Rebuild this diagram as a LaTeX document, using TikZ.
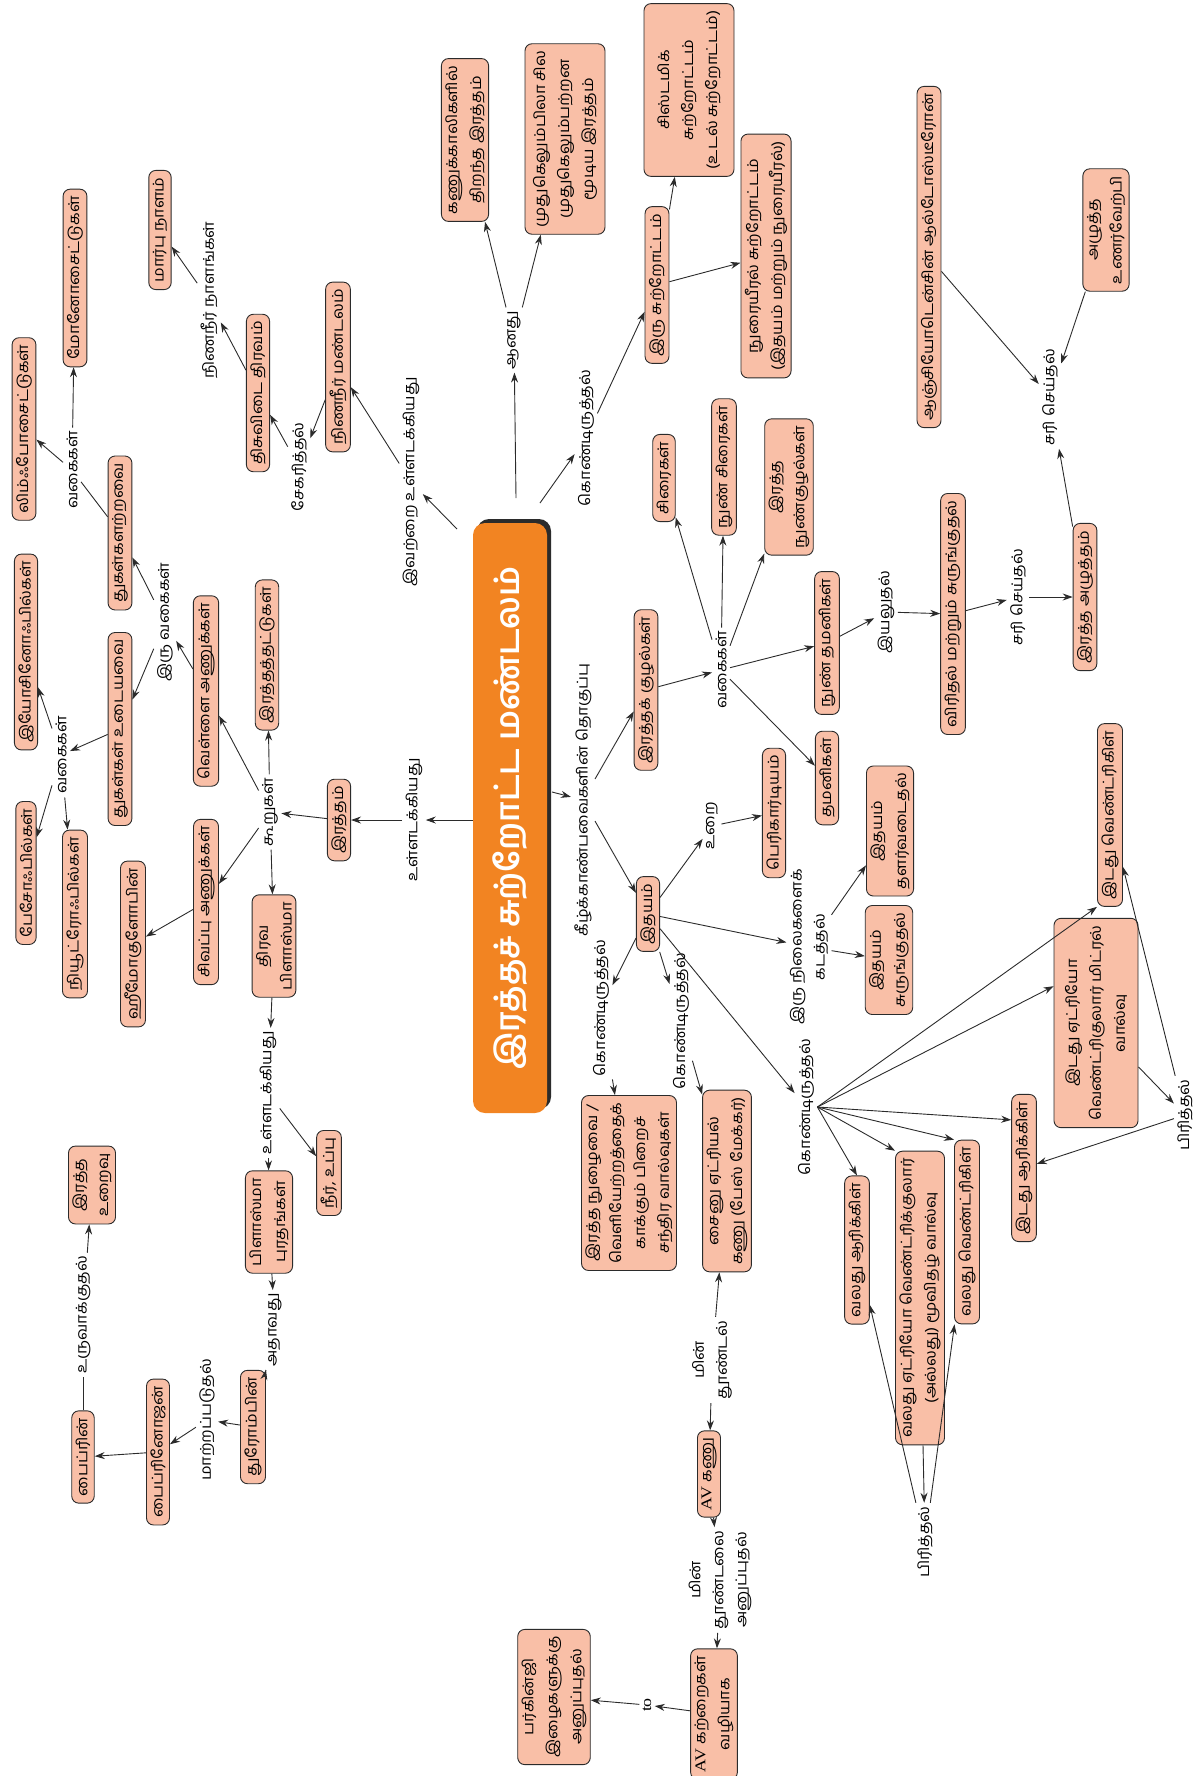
\documentclass[tikz,border=0pt]{standalone}
\usepackage{fontspec}
\setmainfont{Hind Madurai}[Script=Tamil, FakeStretch=1.1]
\newfontfamily\titlefont{Hind Madurai}[Script=Tamil]
\newfontfamily\latinfont{Liberation Serif}[FakeStretch=1.2]
\usetikzlibrary{arrows.meta, calc}
\definecolor{cpeach}{HTML}{F9BFA7}
\definecolor{corange}{HTML}{F28422}
\definecolor{cline}{HTML}{2B2B2B}
\tikzset{
  every picture/.style={line width=0.9bp},
  box/.style={rotate=90, draw=cline, fill=cpeach, rounded corners=7bp, align=center, inner xsep=7bp, inner ysep=4bp, font=\fontsize{15}{24}\selectfont},
  lbl/.style={rotate=90, align=center, inner sep=3bp, font=\fontsize{15}{23}\selectfont},
  arrow/.style={-{Stealth[length=10bp, width=7bp]}, draw=cline},
  link/.style={draw=cline},
  mainbox/.style={rotate=90, rounded corners=12bp, minimum width=590bp, minimum height=74bp, text=white, font=\titlefont\bfseries\fontsize{33}{40}\selectfont},
}
\begin{document}
\begin{tikzpicture}[x=1bp, y=-1bp]
  \useasboundingbox (0,0) rectangle (1198,1776);
  % title box
  \node[mainbox, fill=cline] (mainshadow) at (514,814) {};
  \node[mainbox, fill=corange] (main) at (510,818) {இரத்தச் சுற்றோட்ட மண்டலம்};

  % blood and its parts
  \node[lbl] (incl1) at (414,820) {உள்ளடக்கியது};
  \node[box] (blood) at (339,820) {இரத்தம்};
  \node[lbl] (comps) at (270,812) {கூறுகள்};
  \node[box] (wbc) at (206,691) {வெள்ளை அணுக்கள்};
  \node[box] (platelet) at (267,655) {இரத்தத்தட்டுகள்};
  \node[box] (rbc) at (206,902) {சிவப்பு அணுக்கள்};
  \node[box] (haemo) at (133,944) {ஹீமோகுளோபின்};
  \node[lbl] (twotypes) at (165,622) {இரு வகைகள்};
  \node[box] (agran) at (120,533) {துகள்களற்றவை};
  \node[box] (gran) at (120,729) {துகள்கள் உடையவை};
  \node[lbl] (types1) at (72,470) {வகைகள்};
  \node[box] (lympho) at (24,429) {லிம்ஃபோசைட்டுகள்};
  \node[box] (mono) at (75,278) {மோனோசைட்டுகள்};
  \node[lbl] (types2) at (61,755) {வகைகள்};
  \node[box] (eosino) at (26,652) {இயோசினோஃபில்கள்};
  \node[box] (baso) at (26,873) {பேசோஃபில்கள்};
  \node[box] (neutro) at (75,914) {நியூட்ரோஃபில்கள்};

  % plasma
  \node[box] (plasma) at (274,946) {திரவ\\பிளாஸ்மா};
  \node[lbl] (incl3) at (268,1093) {உள்ளடக்கியது};
  \node[box] (salt) at (329,1173) {நீர், உப்பு};
  \node[box] (protein) at (269,1222) {பிளாஸ்மா\\புரதங்கள்};
  \node[lbl] (thatis) at (275,1330) {அதாவது};
  \node[box] (thrombin) at (253,1427) {துரோம்பின்};
  \node[lbl] (convert) at (207,1420) {மாற்றப்படுதல்};
  \node[box] (fibrinogen) at (158,1452) {பைப்ரினோஜன்};
  \node[box] (fibrin) at (83,1457) {பைப்ரின்};
  \node[lbl] (form) at (83,1315) {உருவாக்குதல்};
  \node[box] (clot) at (92,1185) {இரத்த\\உறைவு};

  % lymph
  \node[lbl] (incl2) at (411,482) {இவற்றை உள்ளடக்கியது};
  \node[box] (lymsys) at (338,367) {நிணநீர் மண்டலம்};
  \node[lbl] (collect) at (299,467) {சேகரித்தல்};
  \node[box] (tissue) at (258,393) {திசுவிடை திரவம்};
  \node[lbl] (ducts) at (209,300) {நிணநீர் நாளங்கள்};
  \node[box] (thduct) at (160,230) {மார்பு நாளம்};

  % open / closed
  \node[lbl] (made) at (514,340) {ஆனது};
  \node[box] (open) at (465,140) {கணுக்காலிகளில்\\திறந்த இரத்தம்};
  \node[box, minimum height=80bp] (closed) at (565,139) {முதுகெலும்பிலா சில\\முதுகெலும்பற்றன\\மூடிய இரத்தம்};

  % circulation
  \node[lbl] (has1) at (586,438) {கொண்டிருத்தல்};
  \node[box] (double) at (657,285) {இரு சுற்றோட்டம்};
  \node[box, minimum height=90bp] (systemic) at (689,90) {சிஸ்டமிக்\\சுற்றோட்டம்\\(உடல் சுற்றோட்டம்)};
  \node[box] (pulmonary) at (766,256) {நுரையீரல் சுற்றோட்டம்\\(இதயம் மற்றும் நுரையீரல்)};

  % vessels
  \node[lbl] (collection) at (583,800) {கீழ்க்காண்பவைகளின் தொகுப்பு};
  \node[box] (vessel) at (646,690) {இரத்தக் குழல்கள்};
  \node[lbl] (types3) at (721,670) {வகைகள்};
  \node[box] (vein) at (664,478) {சிரைகள்};
  \node[box] (venule) at (724,467) {நுண் சிரைகள்};
  \node[box] (capil) at (789,487) {இரத்த\\நுண்குழல்கள்};
  \node[box] (arteriole) at (827,643) {நுண் தமனிகள்};
  \node[box] (artery) at (827,778) {தமனிகள்};
  \node[lbl] (able) at (886,612) {இயலுதல்};
  \node[box] (dilate) at (953,614) {விரிதல் மற்றும் சுருங்குதல்};
  \node[lbl] (adjust2) at (1018,597) {சரி செய்தல்};
  \node[box] (bp) at (1085,597) {இரத்த அழுத்தம்};
  \node[lbl] (adjust1) at (1050,397) {சரி செய்தல்};
  \node[box] (angio) at (929,257) {ஆஞ்சியோடென்சின் ஆல்டோஸ்டீரோன்};
  \node[box] (baro) at (1106,230) {அழுத்த\\உணர்வேற்பி};

  % heart
  \node[box] (heart) at (648,914) {இதயம்};
  \node[lbl] (cover) at (712,826) {உறை};
  \node[box] (pericard) at (774,813) {பெரிகார்டியம்};
  \node[lbl] (phases) at (809,947) {இரு நிலைகளைக்\\கடத்தல்};
  \node[box] (relax) at (890,831) {இதயம்\\தளர்வடைதல்};
  \node[box] (contract) at (889,960) {இதயம்\\சுருங்குதல்};
  \node[lbl] (has2) at (601,1008) {கொண்டிருத்தல்};
  \node[box] (semilunar) at (629,1183) {இரத்த நுழைவை /\\வெளியேற்றத்தைக்\\காக்கும் பிறைச்\\சந்திர வால்வுகள்};
  \node[lbl] (has3) at (681,1021) {கொண்டிருத்தல்};
  \node[box] (sanode) at (727,1181) {சைனு ஏட்ரியல்\\கணு (பேஸ் மேக்கர்)};
  \node[lbl] (has4) at (806,1107) {கொண்டிருத்தல்};
  \node[box] (lv) at (1110,815) {இடது வெண்ட்ரிகிள்};
  \node[box, minimum height=84bp] (mitral) at (1096,1023) {இடது ஏட்ரியோ\\வெண்ட்ரிகுலார் மிட்ரல்\\வால்வு};
  \node[box] (la) at (1024,1168) {இடது ஆரிக்கிள்};
  \node[box] (rv) at (967,1232) {வலது வெண்ட்ரிகிள்};
  \node[box] (tricusp) at (920,1298) {வலது ஏட்ரியோ வெண்ட்ரிக்குலார்\\(அல்லது) மூவிதழ் வால்வு};
  \node[box] (ra) at (857,1250) {வலது ஆரிக்கிள்};
  \node[lbl] (sep1) at (1185,1115) {பிரித்தல்};
  \node[lbl] (sep2) at (925,1542) {பிரித்தல்};

  % conduction
  \node[lbl] (impulse) at (712,1360) {மின்\\தூண்டல்};
  \node[box] (avnode) at (709,1474) {{\latinfont AV} கணு};
  \node[lbl] (send) at (720,1580) {மின்\\தூண்டலை\\அனுப்புதல்};
  \node[box] (bundle) at (714,1714) {{\latinfont AV} கற்றைகள்\\வழியாக};
  \node[lbl, font=\latinfont\fontsize{15}{19}\selectfont] (to) at (647,1705) {to};
  \node[box] (purkinje) at (554,1697) {பர்கின்ஜி\\இழைகளுக்கு\\அனுப்புதல்};

  % connectors
  \draw[arrow] ([shift={(-37,2)}]main.center) -- (incl1);
  \draw[arrow] (incl1) -- (blood);
  \draw[arrow] (blood) -- (comps);
  \draw[arrow] (comps) -- (wbc);
  \draw[arrow] (comps) -- (platelet);
  \draw[arrow] (comps) -- (rbc);
  \draw[arrow] (comps) -- (plasma);
  \draw[arrow] (rbc) -- (haemo);
  \draw[arrow] (wbc) -- (twotypes);
  \draw[arrow] (twotypes) -- (agran);
  \draw[arrow] (twotypes) -- (gran);
  \draw[link] (agran) -- (types1);
  \draw[arrow] (types1) -- (lympho);
  \draw[arrow] (types1) -- (mono);
  \draw[arrow] (gran) -- (types2);
  \draw[arrow] (types2) -- (eosino);
  \draw[arrow] (types2) -- (baso);
  \draw[arrow] (types2) -- (neutro);
  \draw[arrow] (plasma) -- (incl3);
  \draw[arrow] (incl3) -- (protein);
  \draw[arrow] (incl3) -- (salt);
  \draw[arrow] (protein) -- (thatis);
  \draw[arrow] (thatis) -- (thrombin);
  \draw[arrow] (thrombin) -- (convert);
  \draw[arrow] (convert) -- (fibrinogen);
  \draw[arrow] (fibrinogen) -- (fibrin);
  \draw[link] (fibrin) -- (form);
  \draw[arrow] (form) -- (clot);
  \draw[arrow] ([shift={(-53,-289)}]main.center) -- (incl2);
  \draw[arrow] (incl2) -- (lymsys);
  \draw[arrow] (lymsys) -- (collect);
  \draw[arrow] (collect) -- (tissue);
  \draw[arrow] (tissue) -- (ducts);
  \draw[arrow] (ducts) -- (thduct);
  \draw[arrow] ([shift={(6,-320)}]main.center) -- (made);
  \draw[arrow] (made) -- (open);
  \draw[arrow] (made) -- (closed);
  \draw[arrow] ([shift={(30,-315)}]main.center) -- (has1);
  \draw[arrow] (has1) -- (double);
  \draw[arrow] (double) -- (systemic);
  \draw[arrow] (double) -- (pulmonary);
  \draw[arrow] ([shift={(42,-26)}]main.center) -- (collection);
  \draw[arrow] (collection) -- (vessel);
  \draw[arrow] (collection) -- (heart);
  \draw[arrow] (vessel) -- (types3);
  \foreach \t in {vein, venule, capil, arteriole, artery}
    \draw[arrow] (types3) -- (\t);
  \draw[arrow] (arteriole) -- (able);
  \draw[arrow] (able) -- (dilate);
  \draw[arrow] (dilate) -- (adjust2);
  \draw[arrow] (adjust2) -- (bp);
  \draw[arrow] (bp) -- (adjust1);
  \draw[arrow] (angio) -- (adjust1);
  \draw[arrow] (baro) -- (adjust1);
  \draw[arrow] (heart) -- (cover);
  \draw[arrow] (cover) -- (pericard);
  \draw[arrow] (heart) -- (phases);
  \draw[arrow] (phases) -- (relax);
  \draw[arrow] (phases) -- (contract);
  \draw[arrow] (heart) -- (has2);
  \draw[arrow] (has2) -- (semilunar);
  \draw[arrow] (heart) -- (has3);
  \draw[arrow] (has3) -- (sanode);
  \draw[arrow] (heart) -- (has4);
  % fan from the heart's parts label
  \draw[arrow] (has4.south) -- (lv.north west);
  \draw[arrow] (has4.south) -- ($(mitral.north)!0.35!(mitral.north east)$);
  \draw[arrow] (has4.south) -- ($(la.north)!0.65!(la.north east)$);
  \draw[arrow] (has4.south) -- (rv.north east);
  \draw[arrow] (has4.south) -- (tricusp.north east);
  \draw[arrow] (has4.south) -- (ra.east);
  \draw[arrow] (mitral) -- (sep1);
  \draw[arrow] (sep1) -- (lv);
  \draw[arrow] (sep1) -- (la);
  \draw[arrow] (tricusp) -- (sep2);
  \draw[arrow] (sep2) -- (ra);
  \draw[arrow] (sep2) -- (rv);
  \draw[arrow] (impulse) -- (sanode);
  \draw[arrow] (impulse) -- (avnode);
  \draw[arrow] (avnode) -- (send);
  \draw[arrow] (send) -- (bundle);
  \draw[arrow] (bundle) -- (to);
  \draw[arrow] (to) -- (purkinje);
\end{tikzpicture}
\end{document}
